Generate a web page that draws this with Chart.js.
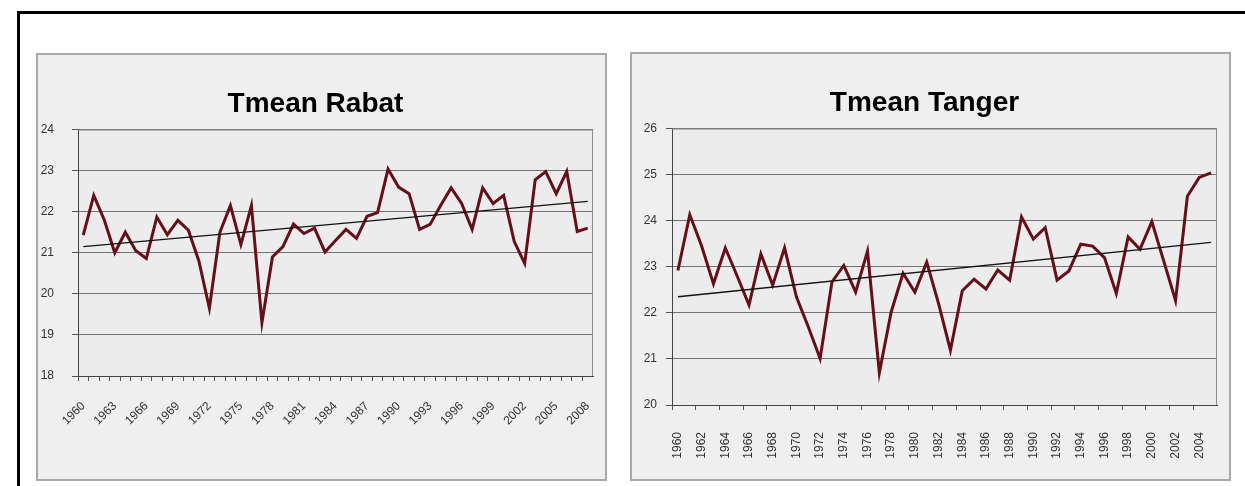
<!DOCTYPE html>
<html>
<head>
<meta charset="utf-8">
<script src="https://cdn.jsdelivr.net/npm/chart.js@4/dist/chart.umd.min.js"></script>
<style>
  body { margin: 0; background: #fff; width: 1245px; height: 486px; overflow: hidden; position: relative; }
  #frame { position: absolute; left: 17px; top: 11px; width: 1240px; height: 490px; border-top: 3px solid #000; border-left: 3px solid #000; }
  .panel { position: absolute; box-sizing: border-box; border: 2px solid #a9a9a9; background: #efefef; }
  .panel canvas { position: absolute; left: 0; top: 0; }
</style>
</head>
<body>
<div id="frame"></div>
<div class="panel" style="left:36px; top:53px; width:571px; height:428px;">
  <canvas id="rabat" width="567" height="424"></canvas>
</div>
<div class="panel" style="left:630px; top:52px; width:601px; height:429px;">
  <canvas id="tanger" width="597" height="425"></canvas>
</div>
<script>
// Rabat, 1960-2008
var RABAT_YEARS = [1960, 1961, 1962, 1963, 1964, 1965, 1966, 1967, 1968, 1969,
  1970, 1971, 1972, 1973, 1974, 1975, 1976, 1977, 1978, 1979,
  1980, 1981, 1982, 1983, 1984, 1985, 1986, 1987, 1988, 1989,
  1990, 1991, 1992, 1993, 1994, 1995, 1996, 1997, 1998, 1999,
  2000, 2001, 2002, 2003, 2004, 2005, 2006, 2007, 2008];
var RABAT_TMEAN = [21.43, 22.4, 21.8, 21.0, 21.5, 21.05, 20.86, 21.87, 21.44, 21.79,
  21.55, 20.8, 19.65, 21.5, 22.15, 21.2, 22.15, 19.3, 20.9, 21.15,
  21.7, 21.47, 21.6, 21.02, 21.3, 21.57, 21.35, 21.89, 21.98, 23.04,
  22.6, 22.44, 21.57, 21.69, 22.15, 22.58, 22.2, 21.57, 22.58, 22.2,
  22.4, 21.28, 20.74, 22.78, 22.98, 22.44, 22.98, 21.52, 21.6];
var RABAT_TREND = [21.15, 22.25]; // trend line ends (first / last year)

// Tanger, 1960-2005
var TANGER_YEARS = [1960, 1961, 1962, 1963, 1964, 1965, 1966, 1967, 1968, 1969,
  1970, 1971, 1972, 1973, 1974, 1975, 1976, 1977, 1978, 1979,
  1980, 1981, 1982, 1983, 1984, 1985, 1986, 1987, 1988, 1989,
  1990, 1991, 1992, 1993, 1994, 1995, 1996, 1997, 1998, 1999,
  2000, 2001, 2002, 2003, 2004, 2005];
var TANGER_TMEAN = [22.92, 24.13, 23.45, 22.63, 23.41, 22.8, 22.17, 23.28, 22.6, 23.41,
  22.35, 21.7, 21.01, 22.67, 23.03, 22.45, 23.34, 20.7, 22.02, 22.86,
  22.45, 23.1, 22.2, 21.19, 22.48, 22.73, 22.52, 22.93, 22.71, 24.08,
  23.6, 23.85, 22.71, 22.91, 23.49, 23.45, 23.2, 22.42, 23.65, 23.38,
  23.98, 23.13, 22.27, 24.53, 24.94, 25.04];
var TANGER_TREND = [22.35, 23.53];

var FONT = "'Liberation Sans', Arial, sans-serif";
var LINE_RED = "#651019";

var plotArea = {
  id: 'plotArea',
  beforeDraw: function(chart) {
    var a = chart.chartArea, c = chart.ctx;
    c.save();
    c.fillStyle = '#ececec';
    c.fillRect(a.left, a.top, a.right - a.left, a.bottom - a.top);
    c.restore();
  },
  beforeDatasetsDraw: function(chart) {
    var a = chart.chartArea, c = chart.ctx;
    c.save();
    c.strokeStyle = '#8c8c8c';
    c.lineWidth = 1;
    c.beginPath();
    c.moveTo(a.left, a.top + 0.5);
    c.lineTo(a.right - 0.5, a.top + 0.5);
    c.lineTo(a.right - 0.5, a.bottom);
    c.stroke();
    c.restore();
  }
};

function makeChart(id, title, years, temps, trend, yMin, yMax, labelEvery, tickEvery, rot, xHeight, xPad, yPad) {
  var labels = years.map(String);
  return new Chart(document.getElementById(id), {
    type: 'line',
    data: {
      labels: labels,
      datasets: [{
        data: [{x: labels[0], y: trend[0]}, {x: labels[labels.length - 1], y: trend[1]}],
        borderColor: '#111',
        borderWidth: 1.3,
        pointRadius: 0
      }, {
        data: temps,
        borderColor: LINE_RED,
        borderWidth: 3,
        pointRadius: 0,
        tension: 0
      }]
    },
    options: {
      responsive: false,
      animation: false,
      devicePixelRatio: 1,
      layout: { padding: { left: 0, right: 12, top: 0, bottom: 0 } },
      plugins: {
        legend: { display: false },
        tooltip: { enabled: false },
        title: {
          display: true,
          text: title,
          color: '#000',
          font: { family: FONT, size: 28, weight: 'bold' },
          padding: { top: 32, bottom: 9 }
        }
      },
      scales: {
        x: {
          type: 'category',
          offset: true,
          grid: {
            offset: true,
            drawOnChartArea: false,
            tickLength: 5,
            tickColor: function(ctx) { return ctx.index % tickEvery === 0 ? '#555' : 'rgba(0,0,0,0)'; }
          },
          border: { color: '#444' },
          ticks: {
            autoSkip: false,
            minRotation: rot,
            maxRotation: rot,
            padding: xPad,
            color: '#333',
            font: { family: FONT, size: 12 },
            callback: function(v, i) { return i % labelEvery === 0 ? this.getLabelForValue(v) : ''; }
          },
          afterFit: function(s) {
            s.height = xHeight;
            s.paddingLeft = 0;
            s.paddingRight = 0;
          }
        },
        y: {
          min: yMin,
          max: yMax,
          grid: { color: '#737373', tickLength: 6, tickColor: '#555' },
          border: { color: '#444' },
          ticks: {
            stepSize: 1,
            padding: yPad,
            color: '#333',
            font: { family: FONT, size: 12 }
          },
          afterFit: function(s) { s.width = 40; }
        }
      }
    },
    plugins: [plotArea]
  });
}

makeChart('rabat', 'Tmean Rabat', RABAT_YEARS, RABAT_TMEAN, RABAT_TREND, 18, 24, 3, 1, 45, 103, 18, 18);
makeChart('tanger', 'Tmean Tanger', TANGER_YEARS, TANGER_TMEAN, TANGER_TREND, 20, 26, 2, 2, 90, 74, 22, 9);
</script>
</body>
</html>
